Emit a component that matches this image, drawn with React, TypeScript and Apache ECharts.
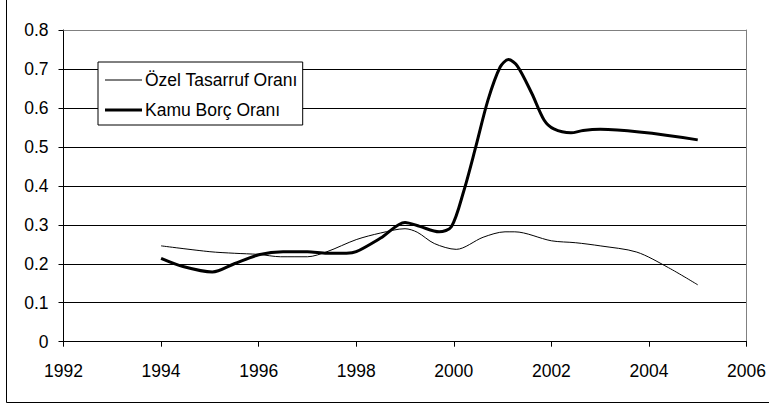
import React, { useEffect, useRef } from "react";
import * as echarts from "echarts";

const xTicks = { min: 1992, max: 2006, interval: 2 };
const yTicks = { min: 0, max: 0.8, interval: 0.1 };

const seriesNames = ["Özel Tasarruf Oranı", "Kamu Borç Oranı"];

const ozelYears = [1994, 1995, 1995.5, 1996, 1996.45, 1997, 1997.4, 1998, 1998.5, 1999, 1999.25, 1999.6, 2000.05, 2000.6, 2001.05, 2001.25, 2002, 2002.5, 2003, 2003.75, 2004.4, 2005];
const ozelValues = [0.246, 0.231, 0.227, 0.224, 0.218, 0.218, 0.231, 0.262, 0.279, 0.290, 0.281, 0.252, 0.237, 0.268, 0.282, 0.282, 0.259, 0.254, 0.246, 0.230, 0.190, 0.146];

const kamuYears = [1994, 1994.45, 1995.05, 1995.5, 1996, 1996.5, 1997, 1997.4, 1997.8, 1998, 1998.5, 1999, 1999.3, 1999.7, 1999.95, 2000.2, 2000.45, 2000.7, 2000.95, 2001.12, 2001.3, 2001.6, 2001.85, 2002.05, 2002.4, 2002.65, 2003, 2005];
const kamuValues = [0.214, 0.193, 0.179, 0.200, 0.223, 0.231, 0.231, 0.227, 0.227, 0.231, 0.266, 0.306, 0.296, 0.282, 0.295, 0.385, 0.500, 0.620, 0.705, 0.724, 0.708, 0.637, 0.569, 0.546, 0.536, 0.542, 0.545, 0.518];

const FONT = "'Liberation Sans', Arial, sans-serif";

export default function App() {
  const ref = useRef<HTMLDivElement>(null);
  useEffect(() => {
    if (!ref.current) return;
    const chart = echarts.init(ref.current, null, { renderer: "svg" });
    const ozelData = ozelYears.map((y, i) => [y, ozelValues[i]]);
    const kamuData = kamuYears.map((y, i) => [y, kamuValues[i]]);
    chart.setOption({
      animation: false,
      backgroundColor: "#ffffff",
      grid: { left: 63.5, right: 19, top: 30, bottom: 66.3, containLabel: false },
      legend: {
        orient: "vertical",
        left: 98,
        top: 62,
        padding: [9, 5, 6, 7],
        itemWidth: 37,
        itemHeight: 14,
        itemGap: 12,
        symbolKeepAspect: true,
        backgroundColor: "#ffffff",
        borderColor: "#000000",
        borderWidth: 1,
        borderRadius: 0,
        itemStyle: { color: "#000", borderWidth: 0 },
        textStyle: { fontSize: 17.5, color: "#000", fontFamily: FONT, padding: [0, 0, 0, -2] },
        data: [
          { name: seriesNames[0], icon: "path://M0 0 L37 0 L37 1 L0 1 Z" },
          { name: seriesNames[1], icon: "path://M0 0 L37 0 L37 3 L0 3 Z" },
        ],
      },
      xAxis: [
        {
          type: "value",
          min: xTicks.min,
          max: xTicks.max,
          interval: xTicks.interval,
          axisLine: { show: true, onZero: false, lineStyle: { color: "#000", width: 1 } },
          axisTick: { show: true, length: 5, lineStyle: { color: "#000" } },
          axisLabel: { fontSize: 17.5, color: "#000", fontFamily: FONT, margin: 20, formatter: (v: number) => String(v) },
          splitLine: { show: false },
        },
        {
          type: "value",
          position: "top",
          min: xTicks.min,
          max: xTicks.max,
          interval: xTicks.interval,
          axisLine: { show: true, onZero: false, lineStyle: { color: "#808080", width: 1 } },
          axisTick: { show: false },
          axisLabel: { show: false },
          splitLine: { show: false },
        },
      ],
      yAxis: [
        {
          type: "value",
          min: yTicks.min,
          max: yTicks.max,
          interval: yTicks.interval,
          axisLine: { show: true, onZero: false, lineStyle: { color: "#000", width: 1 } },
          axisTick: { show: true, length: 5, lineStyle: { color: "#000" } },
          axisLabel: { fontSize: 17.5, color: "#000", fontFamily: FONT, margin: 15 },
          splitLine: { show: true, lineStyle: { color: "#000", width: 1 } },
        },
        {
          type: "value",
          position: "right",
          min: yTicks.min,
          max: yTicks.max,
          interval: yTicks.interval,
          axisLine: { show: true, onZero: false, lineStyle: { color: "#808080", width: 1 } },
          axisTick: { show: false },
          axisLabel: { show: false },
          splitLine: { show: false },
        },
      ],
      graphic: [
        {
          type: "rect",
          shape: { x: 6.5, y: -5, width: 800, height: 407.5 },
          style: { fill: "none", stroke: "#000", lineWidth: 1 },
          silent: true,
        },
      ],
      series: [
        {
          name: seriesNames[0],
          type: "line",
          data: ozelData,
          smooth: 0.3,
          symbol: "none",
          lineStyle: { color: "#000", width: 1 },
          itemStyle: { color: "#000" },
          z: 3,
        },
        {
          name: seriesNames[1],
          type: "line",
          data: kamuData,
          smooth: 0.3,
          symbol: "none",
          lineStyle: { color: "#000", width: 3 },
          itemStyle: { color: "#000" },
          z: 4,
        },
      ],
    });
    return () => chart.dispose();
  }, []);
  return <div ref={ref} style={{ width: 769, height: 408, position: "absolute", left: 0, top: 0 }} />;
}
